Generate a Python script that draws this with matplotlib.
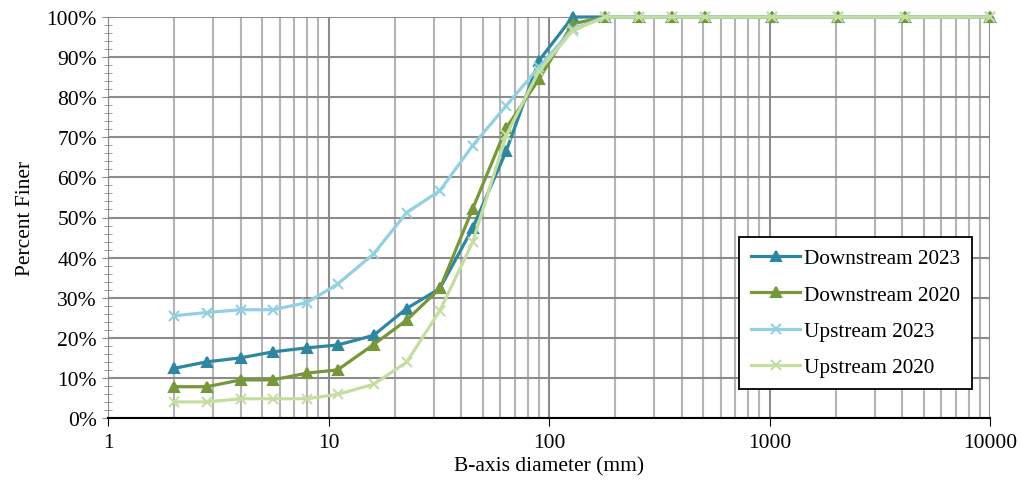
import matplotlib.pyplot as plt
from matplotlib.ticker import FixedLocator, NullFormatter, FuncFormatter

plt.rcParams['font.family'] = ['Liberation Serif', 'DejaVu Serif']

# sieve sizes (mm)
sizes = [2, 2.8, 4, 5.6, 8, 11, 16, 22.6, 32, 45, 64, 90, 128, 180, 256, 362, 512, 1024, 2048, 4096, 10000]

down_2023 = [12.4, 14.0, 15.0, 16.5, 17.5, 18.2, 20.6, 27.3, 32.3, 47.3, 66.6, 89.1, 100, 100, 100, 100, 100, 100, 100, 100, 100]
down_2020 = [7.8, 7.8, 9.5, 9.5, 11.2, 12.0, 18.3, 24.4, 32.3, 52.1, 72.3, 84.5, 98.3, 100, 100, 100, 100, 100, 100, 100, 100]
up_2023 = [25.5, 26.3, 27.0, 27.0, 28.8, 33.4, 40.9, 51.2, 56.7, 67.9, 77.9, 87.5, 97.0, 100, 100, 100, 100, 100, 100, 100, 100]
up_2020 = [4.0, 4.0, 4.8, 4.8, 4.8, 5.9, 8.4, 13.9, 26.8, 43.8, 70.5, 86.5, 96.6, 100, 100, 100, 100, 100, 100, 100, 100]

series = [
    ("Downstream 2023", down_2023, "#2e87a1", "^"),
    ("Downstream 2020", down_2020, "#76973a", "^"),
    ("Upstream 2023", up_2023, "#92d0e2", "x"),
    ("Upstream 2020", up_2020, "#c4dea2", "x"),
]

fig = plt.figure(figsize=(10.21, 4.89), dpi=100)
ax = fig.add_axes([108 / 1021, 1 - 419 / 489, 882 / 1021, 401 / 489])

for name, vals, col, mk in series:
    ax.plot(sizes, vals, color=col, lw=2.3, marker=mk, ms=7,
            mew=1.5, label=name, zorder=3, clip_on=False)

ax.set_xscale("log")
ax.set_xlim(1, 10000)
ax.set_ylim(0, 100)

ax.set_yticks(range(0, 101, 10))
ax.yaxis.set_minor_locator(FixedLocator(range(0, 101, 2)))
ax.yaxis.set_major_formatter(FuncFormatter(lambda v, p: f"{int(v)}%"))
ax.set_xticks([1, 10, 100, 1000, 10000])
ax.set_xticklabels(["1", "10", "100", "1000", "10000"])
ax.xaxis.set_minor_locator(FixedLocator([m * 10 ** e for e in range(0, 4) for m in range(2, 10)]))
ax.xaxis.set_minor_formatter(NullFormatter())

ax.grid(True, which="major", color="#8c8c8c", lw=1.5, zorder=0)
ax.grid(True, which="minor", axis="x", color="#b4b4b4", lw=1.5, zorder=0)

ax.tick_params(axis="y", which="major", direction="inout", length=8, color="#8c8c8c", labelsize=15.5, pad=4)
ax.tick_params(axis="y", which="minor", direction="inout", length=6, color="#8c8c8c")
ax.tick_params(axis="x", which="major", direction="out", length=6, color="black", labelsize=15.5, pad=5)
ax.tick_params(axis="x", which="minor", length=0)

for s in ["top", "right"]:
    ax.spines[s].set_visible(False)
ax.spines["left"].set_color("#8c8c8c")
ax.spines["bottom"].set_color("black")
ax.spines["bottom"].set_linewidth(1.5)

ax.set_xlabel("B-axis diameter (mm)", fontsize=15.5, labelpad=3)
ax.set_ylabel("Percent Finer", fontsize=15.5, labelpad=8)

leg = ax.legend(loc="lower right", bbox_to_anchor=(0.9796, 0.072), borderaxespad=0,
                fontsize=15.3, frameon=True, fancybox=False, edgecolor="black", framealpha=1,
                handlelength=2.3, borderpad=0.55, labelspacing=0.78, handletextpad=0.2)
leg.get_frame().set_linewidth(1.3)

fig.savefig("out.png", dpi=100)
